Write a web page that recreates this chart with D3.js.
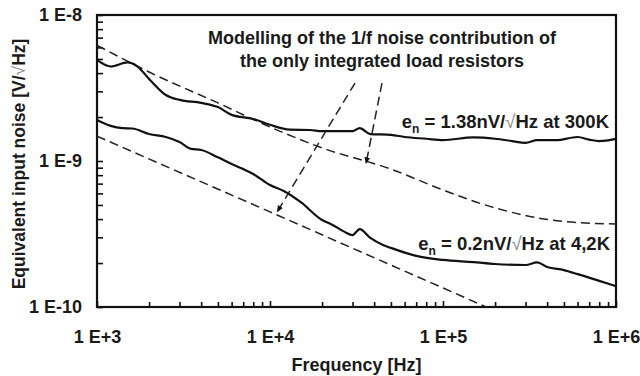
<!DOCTYPE html>
<html>
<head>
<meta charset="utf-8">
<script src="https://cdn.jsdelivr.net/npm/d3@7/dist/d3.min.js"></script>
<style>
  html, body { margin: 0; padding: 0; background: #fff; }
  svg { display: block; }
  text { font-family: "Liberation Sans", Arial, sans-serif; font-weight: bold; fill: #1a1a1a; }
  .root { font-weight: normal; fill: #8a8a8a; }
</style>
</head>
<body>
<svg id="chart" width="640" height="376"></svg>
<script>
// Measured input noise, 300 K
const freq300 = [1e3, 1.2e3, 1.5e3, 1.7e3, 2e3, 2.5e3, 3e3, 4e3, 5e3, 6e3, 8e3, 1e4, 1.3e4, 1.7e4, 2e4, 3e4, 3.3e4, 3.8e4, 5e4, 6e4, 8e4, 1e5, 1.5e5, 2e5, 2.5e5, 3e5, 3.5e5, 4.5e5, 6e5, 7e5, 8e5, 1e6];
const noise300 = [4.92e-9, 4.44e-9, 4.73e-9, 4.47e-9, 3.65e-9, 2.83e-9, 2.62e-9, 2.5e-9, 2.34e-9, 2.07e-9, 1.94e-9, 1.77e-9, 1.64e-9, 1.63e-9, 1.6e-9, 1.6e-9, 1.68e-9, 1.53e-9, 1.51e-9, 1.46e-9, 1.42e-9, 1.39e-9, 1.45e-9, 1.42e-9, 1.37e-9, 1.33e-9, 1.39e-9, 1.39e-9, 1.46e-9, 1.4e-9, 1.37e-9, 1.42e-9];

// Measured input noise, 4.2 K
const freq4K = [1e3, 1.2e3, 1.4e3, 1.6e3, 2e3, 2.5e3, 3e3, 3.5e3, 4e3, 5e3, 6e3, 7e3, 8e3, 1e4, 1.2e4, 1.5e4, 2e4, 2.3e4, 2.7e4, 3e4, 3.3e4, 3.8e4, 4.5e4, 5e4, 7e4, 1e5, 1.5e5, 2e5, 3e5, 3.5e5, 4e5, 5e5, 6e5, 8e5, 1e6];
const noise4K = [1.91e-9, 1.74e-9, 1.68e-9, 1.67e-9, 1.53e-9, 1.46e-9, 1.35e-9, 1.21e-9, 1.19e-9, 1.06e-9, 9.54e-10, 8.81e-10, 8.15e-10, 6.85e-10, 6.23e-10, 5.24e-10, 3.94e-10, 3.65e-10, 3.27e-10, 3.11e-10, 3.42e-10, 2.97e-10, 2.66e-10, 2.54e-10, 2.24e-10, 2.1e-10, 2.03e-10, 1.97e-10, 1.94e-10, 2.02e-10, 1.88e-10, 1.79e-10, 1.68e-10, 1.51e-10, 1.39e-10];

// 1/f model of the integrated load resistors, 300 K
const freqModel300 = [1e3, 2e3, 5e3, 1e4, 2e4, 5e4, 1e5, 2e5, 5e5, 1e6];
const noiseModel300 = [6.2e-9, 4.07e-9, 2.5e-9, 1.71e-9, 1.23e-9, 8.8e-10, 6.33e-10, 4.77e-10, 3.85e-10, 3.7e-10];

// 1/f model of the integrated load resistors, 4.2 K
const freqModel4K = [1e3, 1e4, 1e5, 2e5];
const noiseModel4K = [1.48e-9, 4.48e-10, 1.35e-10, 9.4e-11];

// Axis ticks and labels
const xMajor = [1e3, 1e4, 1e5, 1e6];
const xMajorLabels = ["1 E+3", "1 E+4", "1 E+5", "1 E+6"];
const yMajor = [1e-10, 1e-9, 1e-8];
const yMajorLabels = ["1 E-10", "1 E-9", "1 E-8"];

// Annotation arrows: [from frequency, from noise, to frequency, to noise]
const arrows = [
  [3.1e4, 3.42e-9, 1.1e4, 4.48e-10],
  [4.44e4, 3.42e-9, 3.59e4, 9.6e-10]
];

const svg = d3.select("#chart");
const pLeft = 97, pRight = 616, pTop = 15, pBottom = 307;

const x = d3.scaleLog().domain([1e3, 1e6]).range([pLeft, pRight]);
const y = d3.scaleLog().domain([1e-10, 1e-8]).range([pBottom, pTop]);

function decadeTicks(lo, hi) {
  const t = [];
  for (let e = lo; e < hi; e++) for (let m = 1; m < 10; m++) t.push(m * Math.pow(10, e));
  t.push(Math.pow(10, hi));
  return t;
}
const xTicks = decadeTicks(3, 6);
const yTicks = decadeTicks(-10, -8);
const isMajor = v => Math.abs(Math.log10(v) - Math.round(Math.log10(v))) < 1e-9;

const defs = svg.append("defs");
defs.append("clipPath").attr("id", "plotClip")
  .append("rect").attr("x", pLeft).attr("y", pTop).attr("width", pRight - pLeft).attr("height", pBottom - pTop);

const marker = defs.append("marker")
  .attr("id", "head").attr("viewBox", "0 0 10 10").attr("refX", 9).attr("refY", 5)
  .attr("markerWidth", 7).attr("markerHeight", 7).attr("markerUnits", "userSpaceOnUse")
  .attr("orient", "auto");
marker.append("path").attr("d", "M0,1 L10,5 L0,9 Z").attr("fill", "#111").attr("stroke", "none");

// Bottom axis
const xAxis = d3.axisBottom(x).tickValues(xTicks)
  .tickSize(-5).tickPadding(23)
  .tickFormat(v => { const i = xMajor.findIndex(m => Math.abs(m - v) / m < 1e-9); return i >= 0 ? xMajorLabels[i] : ""; });
const gx = svg.append("g").attr("transform", `translate(0,${pBottom})`).call(xAxis);
gx.select(".domain").remove();
gx.selectAll(".tick line").attr("stroke", "#111").attr("stroke-width", 1.6)
  .attr("y2", d => isMajor(d) ? -6 : -5);
gx.selectAll(".tick text").style("font-size", "18px").attr("fill", "#1a1a1a");

// Left axis
const yAxis = d3.axisLeft(y).tickValues(yTicks)
  .tickSize(-6).tickPadding(15)
  .tickFormat(v => { const i = yMajor.findIndex(m => Math.abs(m - v) / m < 1e-9); return i >= 0 ? yMajorLabels[i] : ""; });
const gy = svg.append("g").attr("transform", `translate(${pLeft},0)`).call(yAxis);
gy.select(".domain").remove();
gy.selectAll(".tick line").attr("stroke", "#111").attr("stroke-width", 1.6);
gy.selectAll(".tick text").style("font-size", "18px").attr("fill", "#1a1a1a");

// Plot frame
svg.append("rect").attr("x", pLeft).attr("y", pTop).attr("width", pRight - pLeft).attr("height", pBottom - pTop)
  .attr("fill", "none").attr("stroke", "#111").attr("stroke-width", 2.2);

const line = d3.line().x(d => x(d[0])).y(d => y(d[1])).curve(d3.curveMonotoneX);
const zip = (a, b) => a.map((v, i) => [v, b[i]]);

const plot = svg.append("g").attr("clip-path", "url(#plotClip)");

plot.append("path").datum(zip(freqModel300, noiseModel300)).attr("d", line)
  .attr("fill", "none").attr("stroke", "#222").attr("stroke-width", 1.5).attr("stroke-dasharray", "9,5");
plot.append("path").datum(zip(freqModel4K, noiseModel4K)).attr("d", d3.line().x(d => x(d[0])).y(d => y(d[1])))
  .attr("fill", "none").attr("stroke", "#222").attr("stroke-width", 1.5).attr("stroke-dasharray", "9,5");
plot.append("path").datum(zip(freq300, noise300)).attr("d", line)
  .attr("fill", "none").attr("stroke", "#111").attr("stroke-width", 2.2);
plot.append("path").datum(zip(freq4K, noise4K)).attr("d", line)
  .attr("fill", "none").attr("stroke", "#111").attr("stroke-width", 2.2);

// Arrows from the annotation to the model curves
svg.selectAll(".arrow").data(arrows).enter().append("line").attr("class", "arrow")
  .attr("x1", d => x(d[0])).attr("y1", d => y(d[1]))
  .attr("x2", d => x(d[2])).attr("y2", d => y(d[3]))
  .attr("stroke", "#222").attr("stroke-width", 1.5).attr("stroke-dasharray", "9,5")
  .attr("marker-end", "url(#head)");

// Annotation text
const note = svg.append("text").attr("text-anchor", "middle").style("font-size", "18px");
note.append("tspan").attr("x", 382).attr("y", 44).text("Modelling of the 1/f noise contribution of");
note.append("tspan").attr("x", 382).attr("y", 67).text("the only integrated load resistors");

// e_n labels, with a thin grey radical sign
function enLabel(xEnd, yBase, value, tail) {
  const t = svg.append("text").attr("x", xEnd).attr("y", yBase).attr("text-anchor", "end").style("font-size", "18.5px");
  t.append("tspan").text("e");
  t.append("tspan").attr("dy", 5).style("font-size", "12px").text("n");
  t.append("tspan").attr("dy", -5).text(" = " + value + "nV/");
  t.append("tspan").attr("class", "root").text("\u221A");
  t.append("tspan").text("Hz at " + tail);
}
enLabel(609, 128, "1.38", "300K");
enLabel(610, 250, "0.2", "4,2K");

// Axis titles
svg.append("text").attr("x", (pLeft + pRight) / 2).attr("y", 371).attr("text-anchor", "middle")
  .style("font-size", "18px").text("Frequency [Hz]");
const yTitle = svg.append("text").attr("transform", `translate(25,164) rotate(-90)`).attr("text-anchor", "middle")
  .style("font-size", "17.5px");
yTitle.append("tspan").text("Equivalent input noise [V/");
yTitle.append("tspan").attr("class", "root").text("\u221A");
yTitle.append("tspan").text("Hz]");
</script>
</body>
</html>
